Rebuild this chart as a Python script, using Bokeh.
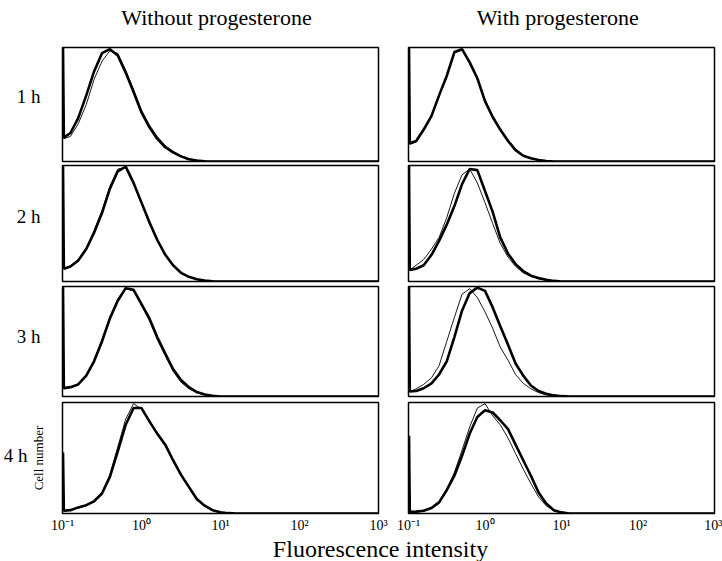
import math
from bokeh.plotting import figure
from bokeh.models import Range1d, Label, FixedTicker, GridPlot, LinearAxis
from bokeh.embed import file_html
from bokeh.resources import INLINE

# ---------------- data ----------------
# fluorescence channels (log spaced); first two points form the spike at the left edge
FLUOR = [0.1015, 0.104, 0.126, 0.158, 0.2, 0.251, 0.316, 0.398, 0.501, 0.631, 0.794,
         1.0, 1.26, 1.58, 2.0, 2.51, 3.16, 3.98, 5.01, 6.31, 7.94,
         10.0, 12.6, 15.8, 20.0, 1000.0]

TIMES = ["1 h", "2 h", "3 h", "4 h"]
COL_TITLES = ["Without progesterone", "With  progesterone"]
TICK_VALUES = [0.1, 1, 10, 100, 1000]
TICK_LABELS = ["10\u207b\u00b9", "10\u2070", "10\u00b9", "10\u00b2", "10\u00b3"]
X_LABEL = "Fluorescence intensity"
Y_LABEL = "Cell number"

# relative cell number (fraction of panel height)
WO_1H_THICK = [1.0, 0.21, 0.25, 0.38, 0.58, 0.79, 0.95, 0.985, 0.93, 0.78, 0.61,
               0.43, 0.30, 0.20, 0.125, 0.08, 0.045, 0.02, 0.008, 0.002, 0,
               0, 0, 0, 0, 0]
WO_1H_THIN = [1.0, 0.20, 0.22, 0.33, 0.50, 0.72, 0.88, 0.97, 0.95, 0.80, 0.63,
              0.45, 0.32, 0.22, 0.14, 0.09, 0.05, 0.024, 0.009, 0.002, 0,
              0, 0, 0, 0, 0]
WI_1H_THICK = [1.0, 0.16, 0.18, 0.28, 0.40, 0.58, 0.75, 0.96, 0.985, 0.87, 0.73,
               0.53, 0.39, 0.28, 0.18, 0.10, 0.05, 0.028, 0.013, 0.004, 0,
               0, 0, 0, 0, 0]
WI_1H_THIN = [1.0, 0.15, 0.17, 0.27, 0.41, 0.57, 0.76, 0.95, 0.98, 0.86, 0.72,
              0.54, 0.40, 0.29, 0.19, 0.11, 0.055, 0.03, 0.014, 0.005, 0,
              0, 0, 0, 0, 0]
WO_2H_THICK = [1.0, 0.11, 0.13, 0.18, 0.28, 0.42, 0.59, 0.80, 0.95, 0.99, 0.85,
               0.68, 0.51, 0.36, 0.23, 0.14, 0.075, 0.04, 0.02, 0.008, 0.002,
               0, 0, 0, 0, 0]
WO_2H_THIN = [1.0, 0.11, 0.13, 0.19, 0.29, 0.44, 0.61, 0.82, 0.97, 0.98, 0.84,
              0.67, 0.50, 0.35, 0.23, 0.14, 0.078, 0.042, 0.02, 0.008, 0.002,
              0, 0, 0, 0, 0]
WI_2H_THICK = [1.0, 0.10, 0.11, 0.14, 0.23, 0.35, 0.49, 0.65, 0.84, 0.97, 0.96,
               0.78, 0.60, 0.38, 0.24, 0.15, 0.09, 0.05, 0.03, 0.015, 0.005,
               0, 0, 0, 0, 0]
WI_2H_THIN = [1.0, 0.10, 0.14, 0.19, 0.28, 0.38, 0.55, 0.76, 0.92, 0.97, 0.85,
              0.68, 0.50, 0.33, 0.21, 0.13, 0.075, 0.045, 0.022, 0.01, 0.003,
              0, 0, 0, 0, 0]
WO_3H_THICK = [1.0, 0.076, 0.085, 0.11, 0.19, 0.32, 0.50, 0.71, 0.87, 0.985, 0.97,
               0.84, 0.71, 0.54, 0.39, 0.25, 0.15, 0.085, 0.04, 0.018, 0.006,
               0, 0, 0, 0, 0]
WO_3H_THIN = [1.0, 0.07, 0.08, 0.11, 0.20, 0.33, 0.52, 0.72, 0.89, 0.98, 0.96,
              0.83, 0.69, 0.52, 0.37, 0.23, 0.13, 0.07, 0.035, 0.015, 0.005,
              0, 0, 0, 0, 0]
WI_3H_THICK = [1.0, 0.045, 0.05, 0.075, 0.12, 0.20, 0.32, 0.54, 0.78, 0.94, 0.99,
               0.96, 0.81, 0.64, 0.47, 0.30, 0.19, 0.10, 0.05, 0.025, 0.01,
               0.003, 0, 0, 0, 0]
WI_3H_THIN = [1.0, 0.045, 0.07, 0.11, 0.17, 0.28, 0.50, 0.72, 0.93, 0.98, 0.90,
              0.77, 0.62, 0.45, 0.33, 0.20, 0.12, 0.07, 0.035, 0.015, 0.005,
              0, 0, 0, 0, 0]
WO_4H_THICK = [0.55, 0.025, 0.03, 0.055, 0.075, 0.11, 0.18, 0.33, 0.56, 0.80, 0.95,
               0.95, 0.83, 0.72, 0.62, 0.48, 0.35, 0.24, 0.13, 0.07, 0.03,
               0.012, 0.003, 0, 0, 0]
WO_4H_THIN = [0.55, 0.025, 0.03, 0.05, 0.075, 0.11, 0.19, 0.35, 0.60, 0.85, 0.99,
              0.94, 0.84, 0.71, 0.61, 0.47, 0.34, 0.23, 0.12, 0.065, 0.028,
              0.01, 0.002, 0, 0, 0]
WI_4H_THICK = [0.70, 0.015, 0.017, 0.025, 0.05, 0.10, 0.21, 0.34, 0.52, 0.72, 0.87,
               0.93, 0.91, 0.84, 0.76, 0.62, 0.48, 0.34, 0.19, 0.09, 0.03,
               0.01, 0, 0, 0, 0]
WI_4H_THIN = [0.70, 0.015, 0.017, 0.03, 0.055, 0.11, 0.22, 0.37, 0.57, 0.78, 0.95,
              0.99, 0.88, 0.80, 0.68, 0.54, 0.40, 0.27, 0.15, 0.07, 0.025,
              0.008, 0, 0, 0, 0]

PANELS = [
    [(WO_1H_THICK, WO_1H_THIN), (WI_1H_THICK, WI_1H_THIN)],
    [(WO_2H_THICK, WO_2H_THIN), (WI_2H_THICK, WI_2H_THIN)],
    [(WO_3H_THICK, WO_3H_THIN), (WI_3H_THICK, WI_3H_THIN)],
    [(WO_4H_THICK, WO_4H_THIN), (WI_4H_THICK, WI_4H_THIN)],
]

# ---------------- layout ----------------
SERIF = "Liberation Serif"
COLS = [(62, 316, 15), (15, 306, 8)]          # border left, frame width, border right
ROWS = [(15, 114, 2), (2, 116, 2), (3, 110, 3), (3, 112, 21)]  # border top, frame h, border bottom
ROW_LABEL_POS = [0.57, 0.56, 0.55, 0.52]       # vertical place of the "n h" labels
HEAD_H = 32
TEXT_H = 26
TITLE_X = [154, 498]                           # title centres, px from the left frame edge


def hide_axis_marks(ax):
    ax.axis_line_color = None
    ax.major_tick_line_color = None
    ax.minor_tick_line_color = None
    ax.major_tick_out = 0
    ax.major_tick_in = 0
    ax.minor_tick_out = 0
    ax.minor_tick_in = 0


def text_figure(height):
    f = figure(width=sum(a + b + cc for a, b, cc in COLS), height=height,
               x_range=Range1d(0, 1), y_range=Range1d(0, 1),
               x_axis_location=None, y_axis_location=None, toolbar_location=None,
               output_backend="svg", min_border_left=0, min_border_right=0,
               min_border_top=0, min_border_bottom=0, outline_line_color=None,
               background_fill_color="white", border_fill_color="white")
    for g in f.grid:
        g.visible = False
    return f


children = []

# column titles (the grid aligns this frame with the panels' frames)
head = text_figure(HEAD_H)
for c in range(2):
    head.add_layout(Label(x=TITLE_X[c], y=15, x_units="screen", y_units="screen",
                          text=COL_TITLES[c], text_align="center", text_baseline="middle",
                          text_font=SERIF, text_font_size="22px", text_color="black"))
children.append((head, 0, 0, 1, 2))

for r in range(4):
    bt, fh, bb = ROWS[r]
    for c in range(2):
        bl, fw, br = COLS[c]
        bottom = (r == 3)
        p = figure(width=bl + fw + br, height=bt + fh + bb,
                   x_axis_type="log", x_range=Range1d(0.1, 1000), y_range=Range1d(0, 1.0),
                   x_axis_location="below" if bottom else None,
                   y_axis_location="left" if c == 0 else None,
                   toolbar_location=None, output_backend="svg",
                   min_border_left=bl, min_border_right=br,
                   min_border_top=bt, min_border_bottom=bb,
                   outline_line_color="black", outline_line_width=1.5,
                   background_fill_color="white", border_fill_color="white")
        for g in p.grid:
            g.visible = False
        thick, thin = PANELS[r][c]
        p.line(x=FLUOR, y=thin, line_color="#1a1a1a", line_width=1.0)
        p.line(x=FLUOR, y=thick, line_color="black", line_width=2.6)
        if bottom:
            ax = p.xaxis[0]
            ax.ticker = FixedTicker(ticks=TICK_VALUES, minor_ticks=[])
            ax.major_label_overrides = dict(zip(TICK_VALUES, TICK_LABELS))
            hide_axis_marks(ax)
            ax.major_label_text_font = SERIF
            ax.major_label_text_font_size = "14px"
            ax.major_label_text_color = "black"
            ax.major_label_standoff = 4
        if c == 0:
            yax = p.yaxis[0]
            hide_axis_marks(yax)
            if bottom:
                # inner axis carries "Cell number", outer axis carries the time label
                yax.ticker = FixedTicker(ticks=[], minor_ticks=[])
                yax.axis_label = Y_LABEL
                yax.axis_label_text_font = SERIF
                yax.axis_label_text_font_size = "13px"
                yax.axis_label_text_font_style = "normal"
                yax.axis_label_text_color = "black"
                yax.axis_label_standoff = 17
                outer = LinearAxis(ticker=FixedTicker(ticks=[ROW_LABEL_POS[r]], minor_ticks=[]),
                                   major_label_overrides={ROW_LABEL_POS[r]: TIMES[r]},
                                   major_label_text_font=SERIF,
                                   major_label_text_font_size="19px",
                                   major_label_text_color="black",
                                   major_label_standoff=0)
                hide_axis_marks(outer)
                p.add_layout(outer, "left")
            else:
                yax.ticker = FixedTicker(ticks=[ROW_LABEL_POS[r]], minor_ticks=[])
                yax.major_label_overrides = {ROW_LABEL_POS[r]: TIMES[r]}
                yax.major_label_text_font = SERIF
                yax.major_label_text_font_size = "19px"
                yax.major_label_text_color = "black"
                yax.major_label_standoff = 22
        children.append((p, r + 1, c))

foot = text_figure(TEXT_H)
foot.add_layout(Label(x=318, y=13, x_units="screen", y_units="screen", text=X_LABEL,
                      text_align="center", text_baseline="middle", text_font=SERIF,
                      text_font_size="24px", text_color="black"))
children.append((foot, 5, 0, 1, 2))

grid = GridPlot(children=children, toolbar_location=None)

open("out.html", "w").write(file_html(grid, INLINE))
